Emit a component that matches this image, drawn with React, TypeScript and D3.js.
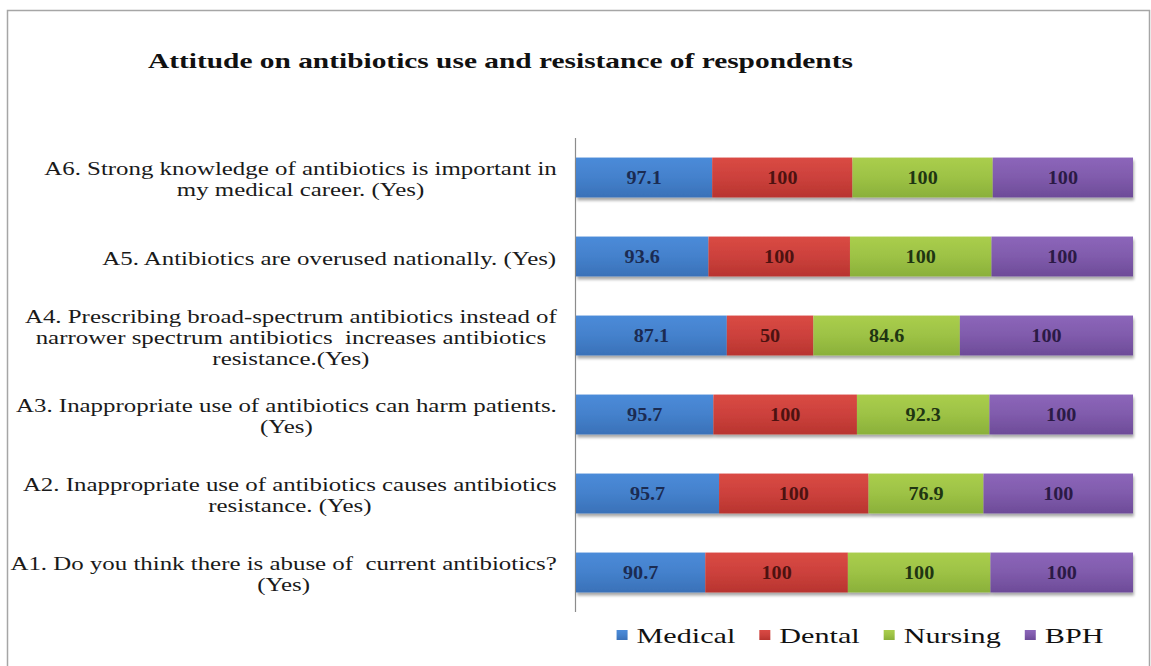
import React, { useMemo } from "react";
import * as d3 from "d3";

// Survey questions, top row first; each entry is the list of wrapped lines.
const questions: string[][] = [
  ["A6. Strong knowledge of antibiotics is important in", "my medical career. (Yes)"],
  ["A5. Antibiotics are overused nationally. (Yes)"],
  [
    "A4. Prescribing broad-spectrum antibiotics instead of",
    "narrower spectrum antibiotics  increases antibiotics",
    "resistance.(Yes)",
  ],
  ["A3. Inappropriate use of antibiotics can harm patients.", "(Yes)"],
  ["A2. Inappropriate use of antibiotics causes antibiotics", "resistance. (Yes)"],
  ["A1. Do you think there is abuse of  current antibiotics?", "(Yes)"],
];
const questionIds = ["A6", "A5", "A4", "A3", "A2", "A1"];

const seriesNames = ["Medical", "Dental", "Nursing", "BPH"];
const medical = [97.1, 93.6, 87.1, 95.7, 95.7, 90.7];
const dental = [100, 100, 50, 100, 100, 100];
const nursing = [100, 100, 84.6, 92.3, 76.9, 100];
const bph = [100, 100, 100, 100, 100, 100];

const titleText = "Attitude on antibiotics use and resistance of respondents";

const W = 1151;
const H = 666;
const SERIF = "'Liberation Serif', 'Times New Roman', serif";

// Segment fills (top, bottom of gradient) and label ink per series
const fills = [
  ["#4b8bd9", "#3a71b8"],
  ["#da4a44", "#b8342f"],
  ["#aace4d", "#8ab03a"],
  ["#8c66ba", "#6d4b98"],
];
const inks = ["#1b2b52", "#4d1210", "#1f3512", "#2b1a45"];

// Horizontal stretch applied to text runs
const LABEL_SX = 1.31;
const VALUE_SX = 1.12;
const TITLE_SX = 1.4;
const LEGEND_SX = 1.37;

let ctx: CanvasRenderingContext2D | null = null;
function measure(text: string, font: string): number {
  if (!ctx) ctx = document.createElement("canvas").getContext("2d");
  if (!ctx) return text.length * 8;
  ctx.font = font;
  return ctx.measureText(text).width;
}

export default function App() {
  const rows = useMemo(
    () =>
      questionIds.map((id, i) => {
        const vals = [medical[i], dental[i], nursing[i], bph[i]];
        const total = d3.sum(vals);
        let acc = 0;
        const segs = vals.map((v, k) => {
          const s = { key: seriesNames[k], k, v, x0: acc / total, x1: (acc + v) / total };
          acc += v;
          return s;
        });
        return { id, i, segs };
      }),
    []
  );

  const x = d3.scaleLinear().domain([0, 1]).range([576, 1133]);
  const y = d3
    .scaleBand<string>()
    .domain(questionIds)
    .range([138, 612])
    .paddingInner(0.495)
    .paddingOuter(0.2475);

  const labelSize = 19;
  const labelFont = `${labelSize}px ${SERIF}`;
  const labelRight = 557;
  const lineH = 21;

  const legendFont = `22px ${SERIF}`;
  const legendItems = (() => {
    const sq = 11;
    const gapIn = 9;
    const gapOut = 24;
    const widths = seriesNames.map((n) => measure(n, legendFont) * LEGEND_SX);
    const total =
      d3.sum(widths) + seriesNames.length * (sq + gapIn) + (seriesNames.length - 1) * gapOut;
    let cx = 860 - total / 2;
    return seriesNames.map((n, k) => {
      const item = { n, k, sqX: cx, textX: cx + sq + gapIn };
      cx += sq + gapIn + widths[k] + gapOut;
      return item;
    });
  })();

  return (
    <svg
      width={W}
      height={H}
      style={{ position: "absolute", left: 0, top: 0, background: "#fff" }}
      fontFamily={SERIF}
    >
      <defs>
        {fills.map((f, k) => (
          <linearGradient key={k} id={`g${k}`} x1="0" y1="0" x2="0" y2="1">
            <stop offset="0" stopColor={f[0]} />
            <stop offset="0.5" stopColor={d3.interpolateRgb(f[0], f[1])(0.4)} />
            <stop offset="1" stopColor={f[1]} />
          </linearGradient>
        ))}
        <filter id="shadow" x="-5%" y="-20%" width="110%" height="160%">
          <feGaussianBlur in="SourceAlpha" stdDeviation="1.6" />
          <feOffset dx="1" dy="2.5" result="b" />
          <feComponentTransfer>
            <feFuncA type="linear" slope="0.35" />
          </feComponentTransfer>
          <feMerge>
            <feMergeNode />
            <feMergeNode in="SourceGraphic" />
          </feMerge>
        </filter>
      </defs>

      <rect x={7.5} y={10.5} width={1142} height={700} fill="#fff" stroke="#a6a6a6" strokeWidth={1.5} />

      <text
        transform={`translate(148,68) scale(${TITLE_SX},1)`}
        fontSize={21}
        fontWeight="bold"
        fill="#111"
      >
        {titleText}
      </text>

      {/* category axis */}
      <line x1={575.5} x2={575.5} y1={138} y2={612} stroke="#8c8c8c" strokeWidth={1.2} />

      {rows.map((r) => {
        const top = y(r.id)!;
        const bh = y.bandwidth();
        const cy = top + bh / 2;
        const lines = questions[r.i];
        const widths = lines.map((l) => measure(l, labelFont) * LABEL_SX);
        const blockW = d3.max(widths)!;
        const mid = labelRight - blockW / 2;
        const firstBase = cy + 2 + 6 - ((lines.length - 1) * lineH) / 2;
        return (
          <g key={r.id}>
            <g filter="url(#shadow)">
              {r.segs.map((s) => (
                <rect
                  key={s.key}
                  x={x(s.x0)}
                  y={top}
                  width={x(s.x1) - x(s.x0)}
                  height={bh}
                  fill={`url(#g${s.k})`}
                />
              ))}
            </g>
            {r.segs.map((s) => (
              <text
                key={s.key}
                transform={`translate(${(x(s.x0) + x(s.x1)) / 2},${cy + 6.5}) scale(${VALUE_SX},1)`}
                textAnchor="middle"
                fontSize={18}
                fontWeight="bold"
                fill={inks[s.k]}
              >
                {String(s.v)}
              </text>
            ))}
            {lines.map((l, j) => (
              <text
                key={j}
                transform={`translate(${mid},${firstBase + j * lineH}) scale(${LABEL_SX},1)`}
                textAnchor="middle"
                fontSize={labelSize}
                fill="#1a1a1a"
                style={{ whiteSpace: "pre" }}
              >
                {l}
              </text>
            ))}
          </g>
        );
      })}

      {legendItems.map((it) => (
        <g key={it.n}>
          <rect x={it.sqX} y={630} width={11} height={10} fill={`url(#g${it.k})`} />
          <text
            transform={`translate(${it.textX},643) scale(${LEGEND_SX},1)`}
            fontSize={22}
            fill="#111"
          >
            {it.n}
          </text>
        </g>
      ))}
    </svg>
  );
}
